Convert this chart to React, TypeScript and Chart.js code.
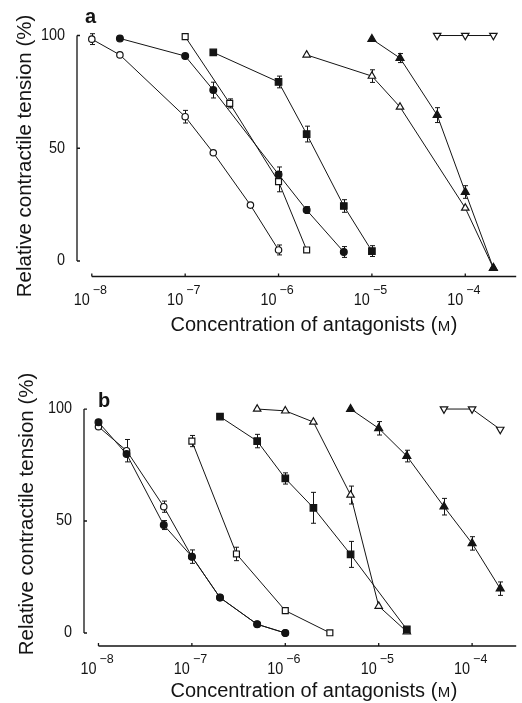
import React, { useEffect, useRef } from 'react';
import { Chart, registerables } from 'chart.js';

Chart.register(...registerables);

// ---------------- Panel a (concentration in M, tension in %) ----------------
const aOpenCircleConc = [1e-8, 2e-8, 1e-7, 2e-7, 5e-7, 1e-6];
const aOpenCircleTension = [98.4, 91.4, 64, 48, 24.8, 4.9];
const aOpenCircleSem = [2.4, 0, 2.8, 0, 0, 2.2];

const aFilledCircleConc = [2e-8, 1e-7, 2e-7, 1e-6, 2e-6, 5e-6];
const aFilledCircleTension = [98.7, 90.9, 75.8, 38.4, 22.6, 4];
const aFilledCircleSem = [0, 0, 3.5, 3.3, 1.5, 2.4];

const aOpenSquareConc = [1e-7, 3e-7, 1e-6, 2e-6];
const aOpenSquareTension = [99.5, 69.9, 35.2, 4.9];
const aOpenSquareSem = [0, 2, 4.5, 0];

const aFilledSquareConc = [2e-7, 1e-6, 2e-6, 5e-6, 1e-5];
const aFilledSquareTension = [92.5, 79.4, 56.3, 24.4, 4.4];
const aFilledSquareSem = [0, 2.6, 3.5, 2.8, 2.4];

const aOpenTriConc = [2e-6, 1e-5, 2e-5, 1e-4, 2e-4];
const aOpenTriTension = [91.4, 82, 68.3, 23.5, -3.1];
const aOpenTriSem = [0, 2.8, 0, 0, 0];

const aFilledTriConc = [1e-5, 2e-5, 5e-5, 1e-4, 2e-4];
const aFilledTriTension = [98.4, 90, 64.7, 30.6, -3.1];
const aFilledTriSem = [0, 2, 3.3, 2.8, 0];

const aInvTriConc = [5e-5, 1e-4, 2e-4];
const aInvTriTension = [100, 100, 100];
const aInvTriSem = [0, 0, 0];

// ---------------- Panel b ----------------
const bFilledCircleConc = [1e-8, 2e-8, 5e-8, 1e-7, 2e-7, 5e-7, 1e-6];
const bFilledCircleTension = [94.1, 79.9, 48.2, 34.1, 15.8, 3.9, 0];
const bFilledCircleSem = [0, 0, 2, 3, 0, 0, 0];

const bOpenCircleConc = [1e-8, 2e-8, 5e-8, 1e-7, 2e-7, 5e-7, 1e-6];
const bOpenCircleTension = [92.1, 81.4, 56.4, 34.1, 15.8, 3.9, 0];
const bOpenCircleSem = [0, 5, 2.5, 0, 0, 0, 0];

const bOpenSquareConc = [1e-7, 3e-7, 1e-6, 3e-6];
const bOpenSquareTension = [85.7, 35.3, 10, 0.1];
const bOpenSquareSem = [2.5, 3, 0, 0];

const bFilledSquareConc = [2e-7, 5e-7, 1e-6, 2e-6, 5e-6, 2e-5];
const bFilledSquareTension = [96.6, 85.7, 69, 55.9, 35.1, 1.6];
const bFilledSquareSem = [0, 3, 2.5, 6.9, 5.8, 0];

const bOpenTriConc = [5e-7, 1e-6, 2e-6, 5e-6, 1e-5, 2e-5];
const bOpenTriTension = [100, 99.2, 94.2, 61.6, 12, 0.6];
const bOpenTriSem = [0, 0, 0, 4, 0, 0];

const bFilledTriConc = [5e-6, 1e-5, 2e-5, 5e-5, 1e-4, 2e-4];
const bFilledTriTension = [100, 91.4, 79, 56.4, 40, 19.8];
const bFilledTriSem = [0, 3, 2.6, 3.7, 3, 3];

const bInvTriConc = [5e-5, 1e-4, 2e-4];
const bInvTriTension = [100, 100, 90.9];
const bInvTriSem = [0, 0, 0];

// ---------------- Ticks & text ----------------
const xTickValues = [1e-8, 1e-7, 1e-6, 1e-5, 1e-4];
const xTickExponents = ['\u22128', '\u22127', '\u22126', '\u22125', '\u22124'];
const yTickValues = [0, 50, 100];
const yTickLabels = ['0', '50', '100'];
const yTitle = 'Relative contractile tension (%)';
const xTitleMain = 'Concentration of antagonists (';
const xTitleUnit = 'M';
const xTitleEnd = ')';

const INK = '#141414';
const FONT = '"Liberation Sans", Arial, Helvetica, sans-serif';

type Marker = 'openCircle' | 'filledCircle' | 'openSquare' | 'filledSquare' | 'openTri' | 'filledTri' | 'invTri';

const markerStyles: Record<Marker, any> = {
  openCircle: { pointStyle: 'circle', radius: 3.2, bg: '#fff', rotation: 0 },
  filledCircle: { pointStyle: 'circle', radius: 3.4, bg: INK, rotation: 0 },
  openSquare: { pointStyle: 'rect', radius: 4.2, bg: '#fff', rotation: 0 },
  filledSquare: { pointStyle: 'rect', radius: 4.6, bg: INK, rotation: 0 },
  openTri: { pointStyle: 'triangle', radius: 4.3, bg: '#fff', rotation: 0 },
  filledTri: { pointStyle: 'triangle', radius: 4.6, bg: INK, rotation: 0 },
  invTri: { pointStyle: 'triangle', radius: 4.3, bg: '#fff', rotation: 180 },
};

type Series = { conc: number[]; tension: number[]; sem: number[]; marker: Marker };

// earlier entries are drawn on top
const panelASeries: Series[] = [
  { conc: aFilledCircleConc, tension: aFilledCircleTension, sem: aFilledCircleSem, marker: 'filledCircle' },
  { conc: aOpenCircleConc, tension: aOpenCircleTension, sem: aOpenCircleSem, marker: 'openCircle' },
  { conc: aOpenSquareConc, tension: aOpenSquareTension, sem: aOpenSquareSem, marker: 'openSquare' },
  { conc: aFilledSquareConc, tension: aFilledSquareTension, sem: aFilledSquareSem, marker: 'filledSquare' },
  { conc: aFilledTriConc, tension: aFilledTriTension, sem: aFilledTriSem, marker: 'filledTri' },
  { conc: aOpenTriConc, tension: aOpenTriTension, sem: aOpenTriSem, marker: 'openTri' },
  { conc: aInvTriConc, tension: aInvTriTension, sem: aInvTriSem, marker: 'invTri' },
];

const panelBSeries: Series[] = [
  { conc: bFilledCircleConc, tension: bFilledCircleTension, sem: bFilledCircleSem, marker: 'filledCircle' },
  { conc: bOpenCircleConc, tension: bOpenCircleTension, sem: bOpenCircleSem, marker: 'openCircle' },
  { conc: bOpenSquareConc, tension: bOpenSquareTension, sem: bOpenSquareSem, marker: 'openSquare' },
  { conc: bFilledSquareConc, tension: bFilledSquareTension, sem: bFilledSquareSem, marker: 'filledSquare' },
  { conc: bOpenTriConc, tension: bOpenTriTension, sem: bOpenTriSem, marker: 'openTri' },
  { conc: bFilledTriConc, tension: bFilledTriTension, sem: bFilledTriSem, marker: 'filledTri' },
  { conc: bInvTriConc, tension: bInvTriTension, sem: bInvTriSem, marker: 'invTri' },
];

type PanelCfg = {
  letter: string;
  top: number;
  height: number;
  padding: { left: number; right: number; top: number; bottom: number };
  xMinExp: number;
  xMaxExp: number;
  yMin: number;
  yMax: number;
  letterPos: [number, number];
  yTitlePos: [number, number];
  xTitleY: number;
};

const panelACfg: PanelCfg = {
  letter: 'a',
  top: 0,
  height: 350,
  padding: { left: 77, right: 0, top: 15, bottom: 350 - 276.5 },
  xMinExp: -8.1586,
  xMaxExp: -3.4545,
  yMin: -6.87,
  yMax: 109.1,
  letterPos: [85, 23],
  yTitlePos: [25, 156],
  xTitleY: 331,
};

const panelBCfg: PanelCfg = {
  letter: 'b',
  top: 340,
  height: 363,
  padding: { left: 84, right: 0, top: 50, bottom: 363 - 306 },
  xMinExp: -8.153,
  xMaxExp: -3.528,
  yMin: -5.8,
  yMax: 108.5,
  letterPos: [98, 67],
  yTitlePos: [27, 174],
  xTitleY: 357,
};

function makeDecorPlugin(cfg: PanelCfg) {
  return {
    id: 'decor' + cfg.letter,
    beforeDatasetsDraw(chart: any) {
      const ctx = chart.ctx;
      const xs = chart.scales.x;
      const ys = chart.scales.y;
      ctx.save();
      ctx.strokeStyle = INK;
      ctx.lineWidth = 1;
      chart.data.datasets.forEach((ds: any) => {
        ds.data.forEach((p: any, j: number) => {
          const e = ds.sem[j];
          if (!e) return;
          const px = Math.round(xs.getPixelForValue(p.x)) + 0.5;
          const y1 = ys.getPixelForValue(p.y + e);
          const y2 = ys.getPixelForValue(p.y - e);
          ctx.beginPath();
          ctx.moveTo(px, y1);
          ctx.lineTo(px, y2);
          ctx.moveTo(px - 2.5, y1);
          ctx.lineTo(px + 2.5, y1);
          ctx.moveTo(px - 2.5, y2);
          ctx.lineTo(px + 2.5, y2);
          ctx.stroke();
        });
      });
      ctx.restore();
    },
    afterDraw(chart: any) {
      const ctx = chart.ctx;
      const xs = chart.scales.x;
      const ys = chart.scales.y;
      const { left, right, bottom } = chart.chartArea;
      ctx.save();
      ctx.strokeStyle = INK;
      ctx.fillStyle = INK;
      ctx.lineWidth = 1.3;

      // y axis line + inward ticks
      const y0 = ys.getPixelForValue(0);
      const y100 = ys.getPixelForValue(100);
      ctx.beginPath();
      ctx.moveTo(left, y0);
      ctx.lineTo(left, y100);
      yTickValues.forEach((v) => {
        const py = ys.getPixelForValue(v);
        ctx.moveTo(left, py);
        ctx.lineTo(left + 3, py);
      });
      // x axis line + inward ticks
      const xStart = xs.getPixelForValue(xTickValues[0]);
      ctx.moveTo(xStart, bottom);
      ctx.lineTo(right, bottom);
      xTickValues.forEach((v) => {
        const px = xs.getPixelForValue(v);
        ctx.moveTo(px, bottom);
        ctx.lineTo(px, bottom - 3);
      });
      ctx.stroke();

      // y tick labels
      ctx.font = `16px ${FONT}`;
      ctx.textAlign = 'right';
      ctx.textBaseline = 'middle';
      yTickValues.forEach((v, i) => {
        const py = ys.getPixelForValue(v);
        ctx.save();
        ctx.translate(left - 12, py);
        ctx.scale(0.9, 1);
        ctx.fillText(yTickLabels[i], 0, 0);
        ctx.restore();
      });

      // x tick labels: 10 with superscript exponent
      ctx.textBaseline = 'alphabetic';
      xTickValues.forEach((v, i) => {
        const px = xs.getPixelForValue(v);
        ctx.save();
        ctx.translate(px - 2, bottom + 28);
        ctx.scale(0.85, 1);
        ctx.font = `17px ${FONT}`;
        ctx.textAlign = 'right';
        ctx.fillText('10', 0, 0);
        ctx.restore();
        ctx.save();
        ctx.translate(px + 1, bottom + 17);
        ctx.font = `12.5px ${FONT}`;
        ctx.textAlign = 'left';
        ctx.fillText(xTickExponents[i], 0, 0);
        ctx.restore();
      });

      // x title with small-cap M
      const bigFont = `20px ${FONT}`;
      const smallFont = `15px ${FONT}`;
      ctx.font = bigFont;
      const w1 = ctx.measureText(xTitleMain).width;
      const w3 = ctx.measureText(xTitleEnd).width;
      ctx.font = smallFont;
      const w2 = ctx.measureText(xTitleUnit).width;
      const total = w1 + w2 + w3 + 1;
      let tx = 314 - total / 2;
      ctx.textAlign = 'left';
      ctx.font = bigFont;
      ctx.fillText(xTitleMain, tx, cfg.xTitleY);
      tx += w1;
      ctx.font = smallFont;
      ctx.fillText(xTitleUnit, tx + 0.5, cfg.xTitleY);
      tx += w2 + 1;
      ctx.font = bigFont;
      ctx.fillText(xTitleEnd, tx, cfg.xTitleY);

      // y title
      ctx.save();
      ctx.translate(cfg.yTitlePos[0], cfg.yTitlePos[1]);
      ctx.rotate(-Math.PI / 2);
      ctx.font = `20.5px ${FONT}`;
      ctx.textAlign = 'center';
      ctx.textBaseline = 'middle';
      ctx.fillText(yTitle, 0, 0);
      ctx.restore();

      // panel letter
      ctx.font = `bold 20px ${FONT}`;
      ctx.textAlign = 'left';
      ctx.textBaseline = 'alphabetic';
      ctx.fillText(cfg.letter, cfg.letterPos[0], cfg.letterPos[1]);

      ctx.restore();
    },
  };
}

function Panel({ series, cfg }: { series: Series[]; cfg: PanelCfg }) {
  const ref = useRef<HTMLCanvasElement | null>(null);
  useEffect(() => {
    if (!ref.current) return;
    const datasets = series.map((s) => {
      const st = markerStyles[s.marker];
      return {
        data: s.conc.map((c, i) => ({ x: c, y: s.tension[i] })),
        sem: s.sem,
        showLine: true,
        borderColor: INK,
        borderWidth: 1,
        pointStyle: st.pointStyle,
        pointRadius: st.radius,
        pointRotation: st.rotation,
        pointBackgroundColor: st.bg,
        pointBorderColor: INK,
        pointBorderWidth: 1.2,
        tension: 0,
        clip: false,
      } as any;
    });
    const chart = new Chart(ref.current, {
      type: 'scatter',
      data: { datasets },
      options: {
        animation: false,
        responsive: false,
        devicePixelRatio: 1,
        events: [],
        layout: { padding: cfg.padding },
        plugins: { legend: { display: false }, tooltip: { enabled: false } },
        scales: {
          x: {
            type: 'logarithmic',
            display: false,
            min: Math.pow(10, cfg.xMinExp),
            max: Math.pow(10, cfg.xMaxExp),
          },
          y: { type: 'linear', display: false, min: cfg.yMin, max: cfg.yMax },
        },
      } as any,
      plugins: [makeDecorPlugin(cfg)],
    });
    return () => chart.destroy();
  }, [series, cfg]);
  return (
    <canvas
      ref={ref}
      width={522}
      height={cfg.height}
      style={{ position: 'absolute', left: 0, top: cfg.top, width: 522, height: cfg.height }}
    />
  );
}

export default function App() {
  return (
    <div style={{ position: 'absolute', left: 0, top: 0, width: 522, height: 703, background: '#fff', overflow: 'hidden' }}>
      <Panel series={panelASeries} cfg={panelACfg} />
      <Panel series={panelBSeries} cfg={panelBCfg} />
    </div>
  );
}
